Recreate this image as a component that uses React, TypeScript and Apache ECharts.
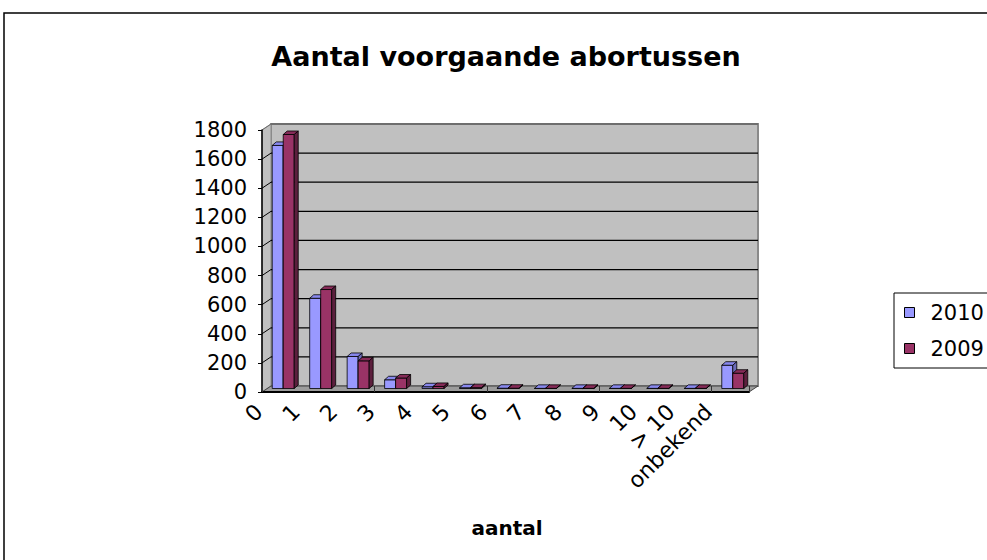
import React, { useEffect, useRef } from "react";
import * as echarts from "echarts";

const categories = ["0", "1", "2", "3", "4", "5", "6", "7", "8", "9", "10", "> 10", "onbekend"];
const values2010 = [1670, 620, 220, 60, 12, 5, 2, 1, 1, 1, 1, 1, 160];
const values2009 = [1745, 680, 190, 72, 14, 6, 2, 1, 1, 1, 1, 1, 105];
const seriesNames = ["2010", "2009"];
const yTicks = [0, 200, 400, 600, 800, 1000, 1200, 1400, 1600, 1800];

const FONT = "DejaVu Sans";
const DX = 9; // wall depth
const DY = -6;
const BAR_OFF_X = 2.5;
const BAR_OFF_Y = -3.5;
const BAR_W = 11;
const BAR_DX = 4;
const BAR_DY = -3.5;

const palettes = [
  { front: "#9999FF", top: "#8888EE", side: "#6B6BB8" },
  { front: "#993366", top: "#862B58", side: "#5C1F3D" },
];

function barRenderer(idx: number) {
  return (params: any, api: any) => {
    const ci = api.value(0);
    const v = api.value(1);
    const base = api.coord([ci, 0]);
    const top = api.coord([ci, v]);
    const pal = palettes[idx];
    const x0 = base[0] - (idx === 0 ? BAR_W : 0) + BAR_OFF_X;
    const yb = base[1] + BAR_OFF_Y;
    const yt = top[1] + BAR_OFF_Y;
    const stroke = { stroke: "#000", lineWidth: 0.8 };
    return {
      type: "group",
      children: [
        {
          type: "rect",
          shape: { x: x0, y: yt, width: BAR_W, height: Math.max(0, yb - yt) },
          style: { fill: pal.front, ...stroke },
        },
        {
          type: "polygon",
          shape: {
            points: [
              [x0, yt],
              [x0 + BAR_W, yt],
              [x0 + BAR_W + BAR_DX, yt + BAR_DY],
              [x0 + BAR_DX, yt + BAR_DY],
            ],
          },
          style: { fill: pal.top, ...stroke },
        },
        {
          type: "polygon",
          shape: {
            points: [
              [x0 + BAR_W, yt],
              [x0 + BAR_W + BAR_DX, yt + BAR_DY],
              [x0 + BAR_W + BAR_DX, yb + BAR_DY],
              [x0 + BAR_W, yb],
            ],
          },
          style: { fill: pal.side, ...stroke },
        },
      ],
    };
  };
}

function wallRenderer(params: any, api: any) {
  const cs = params.coordSys;
  const x = cs.x, y = cs.y, w = cs.width, h = cs.height;
  const children: any[] = [];
  children.push({
    type: "rect",
    shape: { x: x + DX, y: y + DY, width: w, height: h },
    style: { fill: "#C0C0C0", stroke: "#8a8a8a", lineWidth: 2 },
  });
  children.push({
    type: "polygon",
    shape: { points: [[x, y + h], [x, y], [x + DX, y + DY], [x + DX, y + h + DY]] },
    style: { fill: "#C0C0C0", stroke: "#8a8a8a", lineWidth: 1 },
  });
  yTicks.forEach((t) => {
    if (t === 0) return;
    const yy = api.coord([0, t])[1];
    const isTop = t === yTicks[yTicks.length - 1];
    children.push({
      type: "line",
      shape: { x1: x + DX, y1: yy + DY, x2: x + DX + w, y2: yy + DY },
      style: { stroke: isTop ? "#6e6e6e" : "#000", lineWidth: isTop ? 2 : 1.3 },
    });
    children.push({
      type: "line",
      shape: { x1: x, y1: yy, x2: x + DX, y2: yy + DY },
      style: { stroke: isTop ? "#6e6e6e" : "#000", lineWidth: 1 },
    });
  });
  children.push({
    type: "polygon",
    shape: { points: [[x, y + h], [x + w, y + h], [x + w + DX, y + h + DY], [x + DX, y + h + DY]] },
    style: { fill: "#9c9c9c", stroke: "#404040", lineWidth: 1 },
  });
  return { type: "group", children };
}

export default function App() {
  const ref = useRef<HTMLDivElement>(null);
  useEffect(() => {
    if (!ref.current) return;
    const chart = echarts.init(ref.current, undefined, { renderer: "svg" });
    const option: any = {
      animation: false,
      backgroundColor: "#fff",
      textStyle: { fontFamily: FONT },
      title: [
        {
          text: "Aantal voorgaande abortussen",
          left: 506,
          top: 43,
          textAlign: "center",
          padding: 0,
          textStyle: { fontFamily: FONT, fontSize: 27, fontWeight: "bold", color: "#000" },
        },
        {
          text: "aantal",
          left: 507,
          top: 518,
          textAlign: "center",
          padding: 0,
          textStyle: { fontFamily: FONT, fontSize: 20, fontWeight: "bold", color: "#000" },
        },
      ],
      graphic: [
        {
          type: "rect",
          shape: { x: 4, y: 13, width: 1100, height: 700 },
          style: { fill: "none", stroke: "#000", lineWidth: 1.5 },
          silent: true,
        },
      ],
      legend: {
        orient: "vertical",
        left: 894,
        top: 293,
        data: seriesNames,
        icon: "rect",
        itemWidth: 10,
        itemHeight: 10,
        itemGap: 15,
        padding: [9, 14, 9, 10],
        borderColor: "#000",
        borderWidth: 1,
        backgroundColor: "#fff",
        itemStyle: { borderColor: "#000", borderWidth: 1 },
        textStyle: { fontFamily: FONT, fontSize: 21, color: "#000", padding: [0, 0, 0, 11] },
        selectedMode: false,
      },
      grid: [
        { left: 262, top: 130, width: 487, height: 262 },
        { left: 240, top: 130, width: 487, height: 262 },
      ],
      xAxis: [
        {
          type: "category",
          gridIndex: 0,
          data: categories,
          boundaryGap: true,
          z: 10,
          axisLine: { show: true, lineStyle: { color: "#000", width: 2 } },
          axisTick: { show: true, inside: true, length: 6, lineStyle: { color: "#333", width: 1 } },
          axisLabel: { show: false },
          splitLine: { show: false },
        },
        {
          type: "category",
          gridIndex: 1,
          data: categories,
          boundaryGap: true,
          axisLine: { show: false },
          axisTick: { show: false },
          axisLabel: {
            show: true,
            interval: 0,
            rotate: 45,
            margin: 16,
            fontFamily: FONT,
            fontSize: 22,
            color: "#000",
          },
        },
      ],
      yAxis: [
        {
          type: "value",
          gridIndex: 0,
          min: 0,
          max: 1800,
          interval: 200,
          z: 10,
          axisLine: { show: true, lineStyle: { color: "#000", width: 1.5 } },
          axisTick: { show: true, inside: false, length: 4, lineStyle: { color: "#000", width: 1 } },
          axisLabel: {
            margin: 15,
            fontFamily: FONT,
            fontSize: 21,
            color: "#000",
            formatter: (v: number) => String(v),
          },
          splitLine: { show: false },
        },
        { type: "value", gridIndex: 1, min: 0, max: 1800, interval: 200, show: false },
      ],
      series: [
        {
          name: "walls",
          type: "custom",
          xAxisIndex: 0,
          yAxisIndex: 0,
          silent: true,
          z: 1,
          data: [[0, 0]],
          renderItem: wallRenderer,
        },
        {
          name: seriesNames[0],
          type: "custom",
          xAxisIndex: 0,
          yAxisIndex: 0,
          z: 3,
          itemStyle: { color: palettes[0].front },
          data: values2010.map((v, i) => [i, v]),
          renderItem: barRenderer(0),
        },
        {
          name: seriesNames[1],
          type: "custom",
          xAxisIndex: 0,
          yAxisIndex: 0,
          z: 3,
          itemStyle: { color: palettes[1].front },
          data: values2009.map((v, i) => [i, v]),
          renderItem: barRenderer(1),
        },
      ],
    };
    chart.setOption(option);
    return () => chart.dispose();
  }, []);
  return (
    <div
      ref={ref}
      style={{ position: "fixed", left: 0, top: 0, width: 987, height: 560 }}
    />
  );
}
